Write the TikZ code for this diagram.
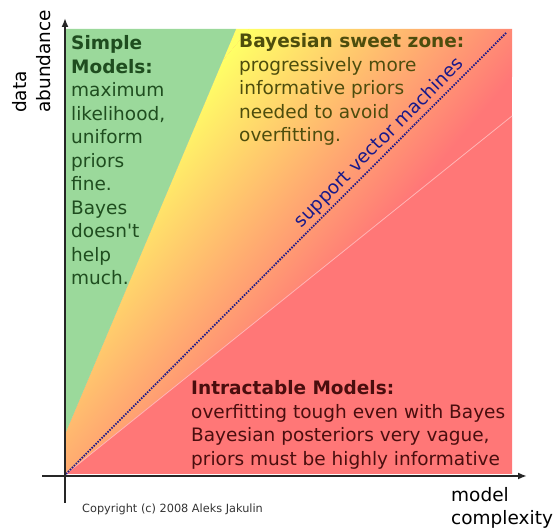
\documentclass[tikz,border=0pt]{standalone}
\usepackage{fontspec}
\setmainfont{DejaVu Sans}[Ligatures=TeXOff]
\usetikzlibrary{arrows.meta,calc}
\definecolor{simplegreen}{HTML}{9BD99B}
\definecolor{sweetyellow}{HTML}{FFFF66}
\definecolor{hardred}{HTML}{FF7777}
\definecolor{svmblue}{HTML}{1A1A8A}
\definecolor{simpletext}{HTML}{1F4D1F}
\definecolor{sweettext}{HTML}{4D4D0D}
\definecolor{hardtext}{HTML}{4A0E0E}
\begin{document}
\begin{tikzpicture}[
        x=1pt, y=1pt,
        axis/.style={draw=black!85, line width=1.8pt, -{Latex[length=9pt, width=7pt]}},
        label/.style={inner sep=0pt, align=left, font=\fontsize{18.5}{23.5}\selectfont},
        zone/.style={label, anchor=base west},
    ]
    \useasboundingbox (0,0) rectangle (554,529);
    \coordinate (origin) at (66,55);
    \coordinate (topleft) at (66,500);
    \coordinate (topright) at (512,500);
    \coordinate (bottomright) at (512,55);
    \coordinate (greenend) at (236,500);
    \coordinate (greenbase) at (66,97);
    \coordinate (redend) at (512,413);
    \coordinate (svmend) at (507,497);
    \coordinate (fadestart) at (240,489);
    \coordinate (ybottom) at (65,26);
    \coordinate (ytop) at (65,511);
    \coordinate (xleft) at (42,53);
    \coordinate (xright) at (527,53);

    % sweet zone: yellow fading into red
    \begin{scope}
        \clip (origin) -- (greenbase) -- (greenend) -- (topright) -- (redend) -- cycle;
        \fill[hardred] (origin) rectangle (topright);
        \begin{scope}[transform canvas={rotate around={-40:(fadestart)}}]
            \fill[sweetyellow] ($(fadestart)+(-600,-600)$) rectangle ($(fadestart)+(0,600)$);
            \shade[left color=sweetyellow, right color=hardred]
                ($(fadestart)+(0,-600)$) rectangle ($(fadestart)+(232,600)$);
        \end{scope}
    \end{scope}
    \fill[simplegreen] (greenbase) -- (topleft) -- (greenend) -- cycle;
    \fill[hardred] (origin) -- (redend) -- (bottomright) -- cycle;
    \draw[hardred!55!white, line width=0.8pt] (origin) -- (redend);

    \draw[svmblue, line width=1.8pt, dash pattern=on 1.5pt off 1.3pt] (origin) -- (svmend)
        node[pos=0.73, sloped, above=2pt, label, text=svmblue] (svm) {support vector machines};

    \draw[axis] (ybottom) -- (ytop);
    \draw[axis] (xleft) -- (xright);

    \node[zone, text=simpletext] (simple) at (71,244) {\textbf{Simple}\\\textbf{Models:}\\maximum\\likelihood,\\uniform\\priors\\fine.\\Bayes\\doesn't\\help\\much.};
    \node[zone, text=sweettext] (sweet) at (239,387) {\textbf{Bayesian sweet zone:}\\progressively more\\informative priors\\needed to avoid\\overfitting.};
    \node[zone, text=hardtext] (hard) at (191,63.5) {\textbf{Intractable Models:}\\overfitting tough even with Bayes\\Bayesian posteriors very vague,\\priors must be highly informative};

    \node[zone, rotate=90] (ylabel) at (50,416) {data\\abundance};
    \node[zone] (xlabel) at (451,4) {model\\complexity};
    \node[anchor=base west, inner sep=0pt, text=black!80, font=\fontsize{11.3}{13}\selectfont] (copyright) at (82,16) {Copyright (c) 2008 Aleks Jakulin};
\end{tikzpicture}
\end{document}
